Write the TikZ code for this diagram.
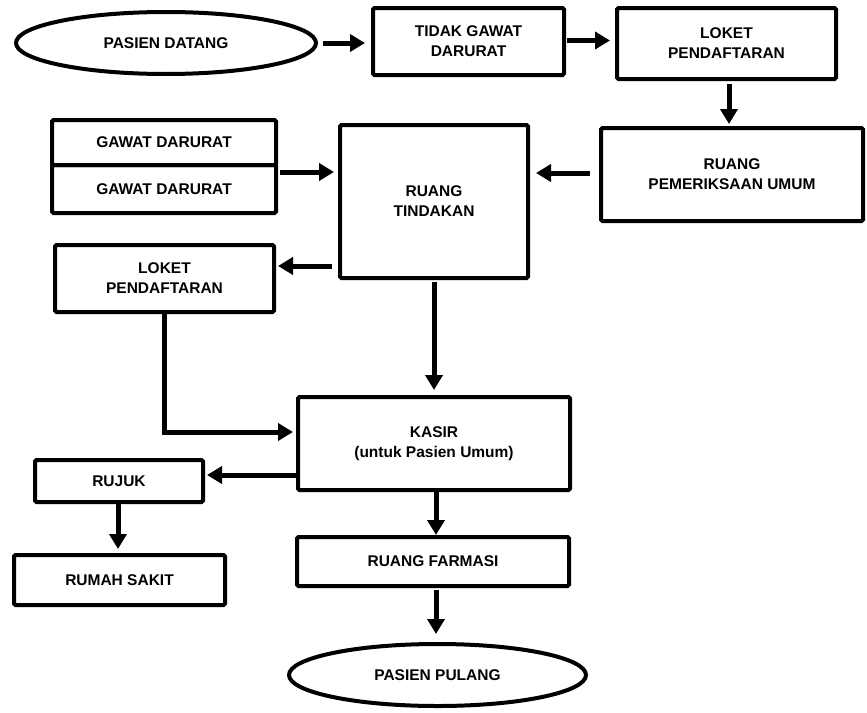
\documentclass[tikz,border=0pt]{standalone}
\usepackage{fontspec}
\setmainfont{Liberation Sans}
\usetikzlibrary{arrows.meta,shapes.geometric}
\begin{document}
\begin{tikzpicture}[x=1pt,y=-1pt,
  every node/.style={font=\bfseries\fontsize{15.5}{20}\selectfont, align=center, inner sep=0pt},
  box/.style={draw, line width=4pt, rounded corners=1.5pt},
  oval/.style={draw, ellipse, line width=4pt},
  arr/.style={line width=5pt, -{Triangle[length=15pt,width=17pt]}}]
\useasboundingbox (0,0) rectangle (867,712);
% nodes
\node[oval, minimum width=300, minimum height=62] (pd) at (166,43) {PASIEN DATANG};
\node[box, minimum width=191, minimum height=67] (tgd) at (468.5,41.5) {TIDAK GAWAT\\DARURAT};
\node[box, minimum width=219, minimum height=71] (lp1) at (726.5,43.5) {LOKET\\PENDAFTARAN};
\node[box, minimum width=262, minimum height=93] (rpu) at (732,174.5) {RUANG\\PEMERIKSAAN UMUM};
\node[box, minimum width=188, minimum height=153] (rt) at (434,201.5) {RUANG\\TINDAKAN};
\node[box, minimum width=224, minimum height=45] (gd1) at (164,142.5) {GAWAT DARURAT};
\node[box, minimum width=224, minimum height=48] (gd2) at (164,189) {GAWAT DARURAT};
\node[box, minimum width=219, minimum height=67] (lp2) at (164.5,278.5) {LOKET\\PENDAFTARAN};
\node[box, minimum width=272, minimum height=93] (kasir) at (434,443.5) {KASIR\\(untuk Pasien Umum)};
\node[box, minimum width=168, minimum height=42] (rujuk) at (119,481) {RUJUK};
\node[box, minimum width=211, minimum height=50] (rs) at (119.5,580) {RUMAH SAKIT};
\node[box, minimum width=272, minimum height=49] (rf) at (433,561.5) {RUANG FARMASI};
\node[oval, minimum width=297, minimum height=62] (pp) at (437.5,675) {PASIEN PULANG};
% connectors
\draw[arr, shorten <=5pt, shorten >=6pt] (pd.east) -- (tgd.west |- pd.east);
\draw[arr, shorten <=1pt, shorten >=5pt] ([yshift=1pt]tgd.east) -- ([yshift=1pt]tgd.east -| lp1.west);
\draw[arr, shorten <=3pt, shorten >=2pt] ([xshift=2.5pt]lp1.south) -- ([xshift=2.5pt]lp1.south |- rpu.north);
\draw[arr, shorten <=9pt, shorten >=6pt] ([yshift=1.5pt]rpu.west) -- ([yshift=1.5pt]rpu.west -| rt.east);
\draw[arr, shorten <=2pt, shorten >=4pt] ([yshift=-9pt]gd2.north east) -- ([yshift=-9pt]gd2.north east -| rt.west);
\draw[arr, shorten <=6pt, shorten >=2pt] ([yshift=14pt]rt.south west) -- ([yshift=14pt]rt.south west -| lp2.east);
\draw[arr, shorten >=3pt] (lp2.south) |- ([yshift=11.5pt]kasir.west);
\draw[arr, shorten <=2pt, shorten >=5pt] (rt.south) -- (kasir.north);
\draw[arr, shorten >=2pt] ([yshift=-31.5pt]kasir.west) -- ([yshift=-31.5pt]kasir.west -| rujuk.east);
\draw[arr, shorten <=0pt, shorten >=4pt] ([xshift=-1pt]rujuk.south) -- ([xshift=-1pt]rujuk.south |- rs.north);
\draw[arr, shorten <=0pt, shorten >=0pt] ([xshift=2pt]kasir.south) -- ([xshift=2pt]kasir.south |- rf.north);
\draw[arr, shorten <=2pt, shorten >=8pt] ([xshift=3pt]rf.south) -- ([xshift=3pt]rf.south |- pp.north);
\end{tikzpicture}
\end{document}
